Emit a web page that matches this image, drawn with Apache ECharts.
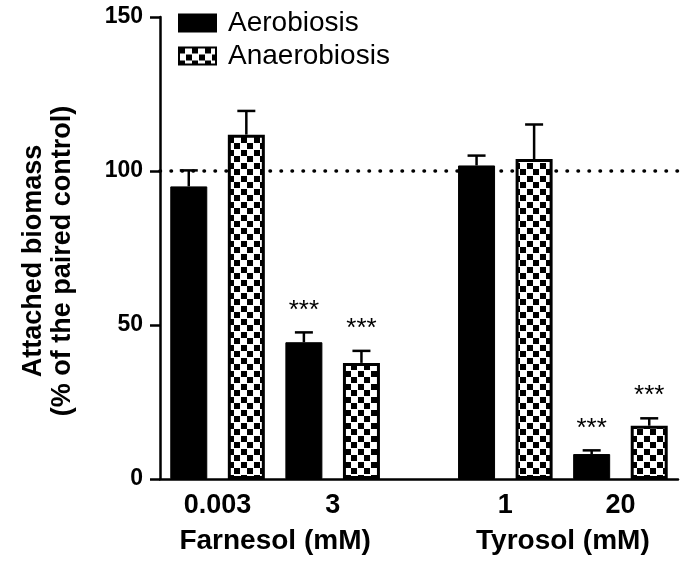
<!DOCTYPE html>
<html>
<head>
<meta charset="utf-8">
<script src="https://cdn.jsdelivr.net/npm/echarts@6/dist/echarts.min.js"></script>
<style>
html,body{margin:0;padding:0;background:#fff;}
#chart{width:688px;height:567px;}
</style>
</head>
<body>
<div id="chart"></div>
<script>
// ---- data ----
const doseLabels = ['0.003', '3', '1', '20'];
const groupNames = ['Farnesol (mM)', 'Tyrosol (mM)'];
const seriesNames = ['Aerobiosis', 'Anaerobiosis'];
const aerobiosis = [95.0, 44.4, 101.8, 8.1];
const aerobiosisErr = [5.2, 3.2, 3.2, 1.2];
const aerobiosisSig = ['', '***', '', '***'];
const anaerobiosis = [111.8, 37.7, 103.9, 17.3];
const anaerobiosisErr = [7.7, 3.9, 11.2, 2.4];
const anaerobiosisSig = ['', '***', '', '***'];
const yTicks = [0, 50, 100, 150];
const referenceValue = 100;
const yTitle = ['Attached biomass', '(% of the paired control)'];

// ---- layout of slots: two bars per dose, an empty slot between compounds ----
const FONT = '"Liberation Sans", Arial, Helvetica, sans-serif';
const nSlots = doseLabels.length * 2 + 1;
function aeroSlot(i) { return i * 2 + (i >= 2 ? 1 : 0); }
const slots = [];
for (let s = 0; s < nSlots; s++) slots.push('s' + s);
const aeroData = slots.map(() => '-');
const anaeroData = slots.map(() => '-');
const errData = [];
doseLabels.forEach((d, i) => {
  const a = aeroSlot(i);
  aeroData[a] = aerobiosis[i];
  anaeroData[a + 1] = anaerobiosis[i];
  errData.push([a, aerobiosis[i], aerobiosisErr[i], aerobiosisSig[i]]);
  errData.push([a + 1, anaerobiosis[i], anaerobiosisErr[i], anaerobiosisSig[i]]);
});

// checker pattern
const tile = document.createElement('canvas');
tile.width = 13; tile.height = 13;
const tc = tile.getContext('2d');
tc.fillStyle = '#fff'; tc.fillRect(0, 0, 13, 13);
tc.fillStyle = '#000';
tc.fillRect(0, 0, 6, 6);
tc.fillRect(7, 7, 6, 6);

const chart = echarts.init(document.getElementById('chart'), null, {renderer: 'canvas'});

chart.setOption({
  backgroundColor: '#fff',
  animation: false,
  textStyle: {fontFamily: FONT},
  grid: {left: 160, right: 10, top: 17, bottom: 88},
  legend: {
    data: seriesNames,
    orient: 'vertical',
    left: 173, top: 4,
    itemWidth: 37, itemHeight: 17, itemGap: 5,
    icon: 'rect',
    textStyle: {fontFamily: FONT, fontSize: 28, color: '#000', padding: [0, 0, 0, 7]}
  },
  xAxis: {
    type: 'category',
    data: slots,
    boundaryGap: true,
    axisLine: {lineStyle: {color: '#000', width: 2.5}},
    axisTick: {show: false},
    axisLabel: {show: false},
    splitLine: {show: false}
  },
  yAxis: {
    type: 'value',
    min: yTicks[0], max: yTicks[yTicks.length - 1], interval: yTicks[1] - yTicks[0],
    axisLine: {show: true, lineStyle: {color: '#000', width: 2.5}},
    axisTick: {show: true, length: 10, lineStyle: {color: '#000', width: 2.5}},
    axisLabel: {margin: 17, fontFamily: FONT, fontSize: 23, fontWeight: 'bold', color: '#000'},
    splitLine: {show: false}
  },
  series: [
    {
      name: seriesNames[0], type: 'bar', data: aeroData,
      barWidth: 37, barGap: '-100%',
      itemStyle: {color: '#000', borderColor: '#000', borderWidth: 1},
      z: 3,
      markLine: {
        silent: true, symbol: 'none', z: 1,
        label: {show: false},
        lineStyle: {color: '#000', width: 3.5, type: [0.5, 10.5], cap: 'round'},
        data: [{yAxis: referenceValue}]
      }
    },
    {
      name: seriesNames[1], type: 'bar', data: anaeroData,
      barWidth: 37, barGap: '-100%',
      itemStyle: {color: {image: tile, repeat: 'repeat'}, borderColor: '#000', borderWidth: 3},
      z: 3
    },
    {
      name: 'err', type: 'custom', data: errData, z: 4,
      renderItem: function (params, api) {
        const x = api.value(0), v = api.value(1), e = api.value(2);
        const base = api.coord([x, v]);
        const top = api.coord([x, v + e]);
        const sig = errData[params.dataIndex][3];
        const ch = [
          {type: 'line', shape: {x1: base[0], y1: base[1], x2: top[0], y2: top[1]}, style: {stroke: '#000', lineWidth: 2.5}},
          {type: 'line', shape: {x1: top[0] - 9, y1: top[1], x2: top[0] + 9, y2: top[1]}, style: {stroke: '#000', lineWidth: 2.5}}
        ];
        if (sig) {
          ch.push({type: 'text', x: top[0], y: top[1] - 9,
            style: {text: sig, fontFamily: FONT, fontSize: 26, fill: '#000', align: 'center', verticalAlign: 'bottom'}});
        }
        return {type: 'group', children: ch};
      }
    }
  ]
});

// category labels and compound names positioned from the axis scale
const g = [];
const y0 = chart.convertToPixel({gridIndex: 0}, [0, 0])[1];
const groupCenters = [];
doseLabels.forEach((d, i) => {
  const a = aeroSlot(i);
  const xa = chart.convertToPixel({gridIndex: 0}, [a, 0])[0];
  const xb = chart.convertToPixel({gridIndex: 0}, [a + 1, 0])[0];
  const xc = (xa + xb) / 2;
  groupCenters.push(xc);
  g.push({type: 'text', x: xc, y: y0 + 27,
    style: {text: d, fontFamily: FONT, fontSize: 27, fontWeight: 'bold', fill: '#000', align: 'center', verticalAlign: 'middle'}});
});
groupNames.forEach((n, k) => {
  const xc = (groupCenters[k * 2] + groupCenters[k * 2 + 1]) / 2;
  g.push({type: 'text', x: xc, y: y0 + 62,
    style: {text: n, fontFamily: FONT, fontSize: 28, fontWeight: 'bold', fill: '#000', align: 'center', verticalAlign: 'middle'}});
});
const yTop = chart.convertToPixel({gridIndex: 0}, [0, yTicks[yTicks.length - 1]])[1];
g.push({type: 'text', x: 48, y: (yTop + y0) / 2 + 13, rotation: Math.PI / 2,
  style: {text: yTitle.join('\n'), fontFamily: FONT, fontSize: 27, fontWeight: 'bold', lineHeight: 29,
    fill: '#000', align: 'center', verticalAlign: 'middle'}});
chart.setOption({graphic: g});
</script>
</body>
</html>
